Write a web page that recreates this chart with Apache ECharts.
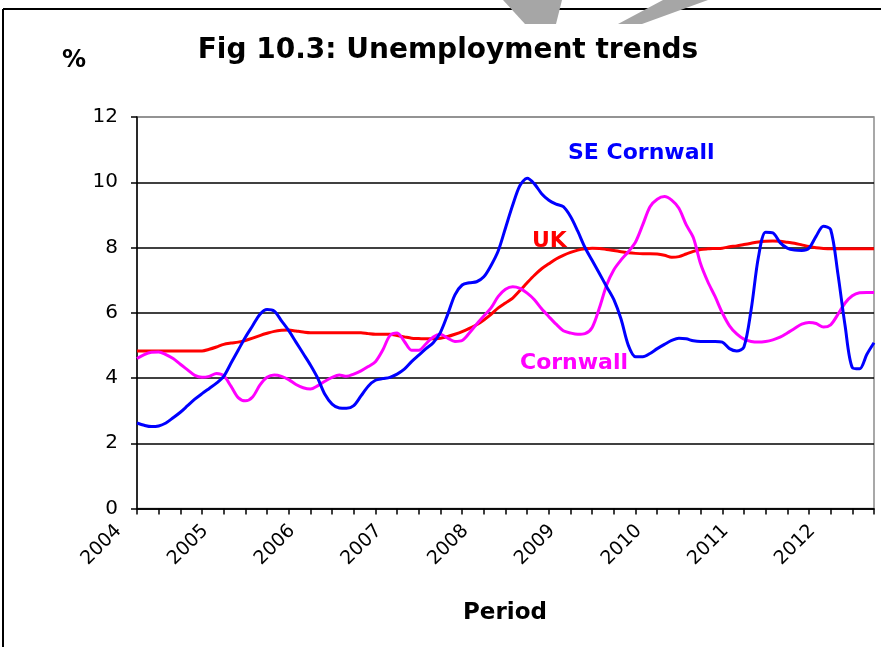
<!DOCTYPE html>
<html>
<head>
<meta charset="utf-8">
<script src="https://cdn.jsdelivr.net/npm/echarts@6/dist/echarts.min.js"></script>
<style>
html,body{margin:0;padding:0;background:#fff;}
#chart{width:881px;height:647px;}
</style>
</head>
<body>
<div id="chart"></div>
<script>
// Monthly periods Jan 2004 .. Jul 2012
const startYear = 2004;
const monthCount = 103;
const categories = [];
for (let k = 0; k < monthCount; k++) {
  const y = startYear + Math.floor(k / 12);
  const m = (k % 12) + 1;
  categories.push(y + '-' + (m < 10 ? '0' + m : m));
}

const seCornwall = [
  2.62, 2.55, 2.51, 2.53, 2.62, 2.78, 2.95, 3.15, 3.35, 3.52, 3.68, 3.84,
  4.05, 4.45, 4.85, 5.25, 5.60, 5.95, 6.10, 6.05, 5.75, 5.45, 5.10, 4.75,
  4.40, 4.00, 3.50, 3.20, 3.08, 3.07, 3.15, 3.45, 3.75, 3.93, 3.98, 4.02,
  4.12, 4.27, 4.50, 4.70, 4.90, 5.08, 5.40, 5.95, 6.55, 6.85, 6.92, 6.95,
  7.10, 7.45, 7.90, 8.60, 9.30, 9.90, 10.12, 9.95, 9.65, 9.45, 9.33, 9.25,
  8.95, 8.50, 8.00, 7.60, 7.20, 6.80, 6.40, 5.80, 5.00, 4.65, 4.65, 4.75,
  4.90, 5.03, 5.15, 5.22, 5.20, 5.14, 5.12, 5.12, 5.12, 5.10, 4.90, 4.83,
  4.95, 6.10, 7.70, 8.47, 8.45, 8.15, 7.98, 7.92, 7.91, 7.98, 8.35, 8.65,
  8.55, 7.20, 5.60, 4.32, 4.28, 4.72, 5.08
];

const uk = [
  4.83, 4.83, 4.83, 4.83, 4.83, 4.83, 4.83, 4.83, 4.83, 4.83, 4.88, 4.95,
  5.03, 5.07, 5.10, 5.15, 5.22, 5.30, 5.37, 5.43, 5.46, 5.47, 5.44, 5.41,
  5.39, 5.39, 5.39, 5.39, 5.39, 5.39, 5.39, 5.39, 5.36, 5.34, 5.34, 5.34,
  5.30, 5.26, 5.22, 5.21, 5.20, 5.20, 5.22, 5.27, 5.34, 5.42, 5.52, 5.63,
  5.78, 5.95, 6.15, 6.30, 6.45, 6.68, 6.92, 7.15, 7.35, 7.50, 7.65, 7.76,
  7.85, 7.92, 7.96, 7.98, 7.97, 7.94, 7.91, 7.87, 7.84, 7.82, 7.81, 7.81,
  7.80, 7.76, 7.70, 7.72, 7.80, 7.88, 7.94, 7.96, 7.97, 7.98, 8.02, 8.05,
  8.09, 8.13, 8.17, 8.19, 8.20, 8.19, 8.16, 8.13, 8.08, 8.03, 7.99, 7.97,
  7.96, 7.96, 7.96, 7.96, 7.96, 7.96, 7.96
];

const cornwall = [
  4.60, 4.72, 4.79, 4.80, 4.72, 4.60, 4.42, 4.25, 4.08, 4.02, 4.05, 4.14,
  4.07, 3.75, 3.40, 3.30, 3.42, 3.78, 4.02, 4.09, 4.05, 3.95, 3.80, 3.70,
  3.66, 3.76, 3.90, 4.02, 4.09, 4.05, 4.12, 4.22, 4.35, 4.50, 4.85, 5.30,
  5.38, 5.12, 4.85, 4.85, 5.05, 5.26, 5.34, 5.22, 5.12, 5.15, 5.38, 5.65,
  5.90, 6.15, 6.50, 6.72, 6.80, 6.75, 6.60, 6.40, 6.12, 5.88, 5.65, 5.45,
  5.38, 5.34, 5.36, 5.55, 6.15, 6.85, 7.32, 7.62, 7.87, 8.17, 8.70, 9.25,
  9.48, 9.56, 9.45, 9.20, 8.70, 8.30, 7.50, 6.95, 6.50, 6.00, 5.60, 5.35,
  5.19, 5.12, 5.10, 5.12, 5.17, 5.25, 5.38, 5.52, 5.65, 5.70, 5.67, 5.56,
  5.63, 5.95, 6.30, 6.52, 6.61, 6.62, 6.62
];

const yTicks = [0, 2, 4, 6, 8, 10, 12];

const FONT = '"DejaVu Sans", Verdana, sans-serif';
const chart = echarts.init(document.getElementById('chart'), null, {renderer: 'canvas'});

const lineSeries = (name, data, color) => ({
  name: name,
  type: 'line',
  data: data,
  smooth: 0.3,
  symbol: 'none',
  lineStyle: {color: color, width: 3},
  itemStyle: {color: color},
  z: 3
});

chart.setOption({
  animation: false,
  backgroundColor: '#fff',
  title: {
    text: 'Fig 10.3: Unemployment trends',
    left: 443,
    top: 32,
    textAlign: 'center',
    textStyle: {fontFamily: FONT, fontSize: 28, fontWeight: 'bold', color: '#000'}
  },
  grid: {
    left: 137, right: 7, top: 117, bottom: 138.5,
    show: true, borderColor: '#8c8c8c', borderWidth: 1.5, backgroundColor: 'transparent'
  },
  xAxis: {
    type: 'category',
    data: categories,
    boundaryGap: false,
    axisLine: {lineStyle: {color: '#000', width: 1.5}},
    axisTick: {show: true, interval: 2, length: 6, lineStyle: {color: '#000', width: 1.5}},
    axisLabel: {
      interval: 11, rotate: 45, margin: 1,
      padding: [0, 26, 0, 0],
      fontFamily: FONT, fontSize: 19, color: '#000',
      formatter: v => v.slice(0, 4)
    },
    splitLine: {show: false}
  },
  yAxis: {
    type: 'value',
    min: yTicks[0], max: yTicks[yTicks.length - 1], interval: 2,
    axisLine: {show: true, lineStyle: {color: '#000', width: 1.5}},
    axisTick: {show: true, length: 6, lineStyle: {color: '#000', width: 1.5}},
    axisLabel: {fontFamily: FONT, fontSize: 20, color: '#000', margin: 19},
    splitLine: {show: true, lineStyle: {color: ['#000', '#000', '#000', '#000', '#000', '#000', '#8c8c8c'], width: 1.5}}
  },
  series: [
    lineSeries('UK', uk, '#ff0000'),
    lineSeries('Cornwall', cornwall, '#ff00ff'),
    lineSeries('SE Cornwall', seCornwall, '#0000ff')
  ],
  graphic: [
    {type: 'line', shape: {x1: 3, y1: 9, x2: 881, y2: 9}, style: {stroke: '#000', lineWidth: 2}},
    {type: 'line', shape: {x1: 3, y1: 9, x2: 3, y2: 647}, style: {stroke: '#000', lineWidth: 2}},
    {type: 'polygon', shape: {points: [[503, 0], [562, 0], [556, 24], [525, 24]]}, style: {fill: '#a6a6a6'}, z: 10},
    {type: 'polygon', shape: {points: [[618, 24], [642, 24], [708, 0], [663, 0]]}, style: {fill: '#a6a6a6'}, z: 10},
    {type: 'text', left: 62, top: 49, style: {text: '%', fontFamily: FONT, fontSize: 24, fontWeight: 'bold', fill: '#000'}},
    {type: 'text', left: 463, top: 602, style: {text: 'Period', fontFamily: FONT, fontSize: 23, fontWeight: 'bold', fill: '#000'}},
    {type: 'text', left: 568, top: 142, style: {text: 'SE Cornwall', fontFamily: FONT, fontSize: 22, fontWeight: 'bold', fill: '#0000ff'}, z: 20},
    {type: 'text', left: 532, top: 230, style: {text: 'UK', fontFamily: FONT, fontSize: 22, fontWeight: 'bold', fill: '#ff0000'}, z: 20},
    {type: 'text', left: 520, top: 352, style: {text: 'Cornwall', fontFamily: FONT, fontSize: 22, fontWeight: 'bold', fill: '#ff00ff'}, z: 20}
  ]
});
</script>
</body>
</html>
